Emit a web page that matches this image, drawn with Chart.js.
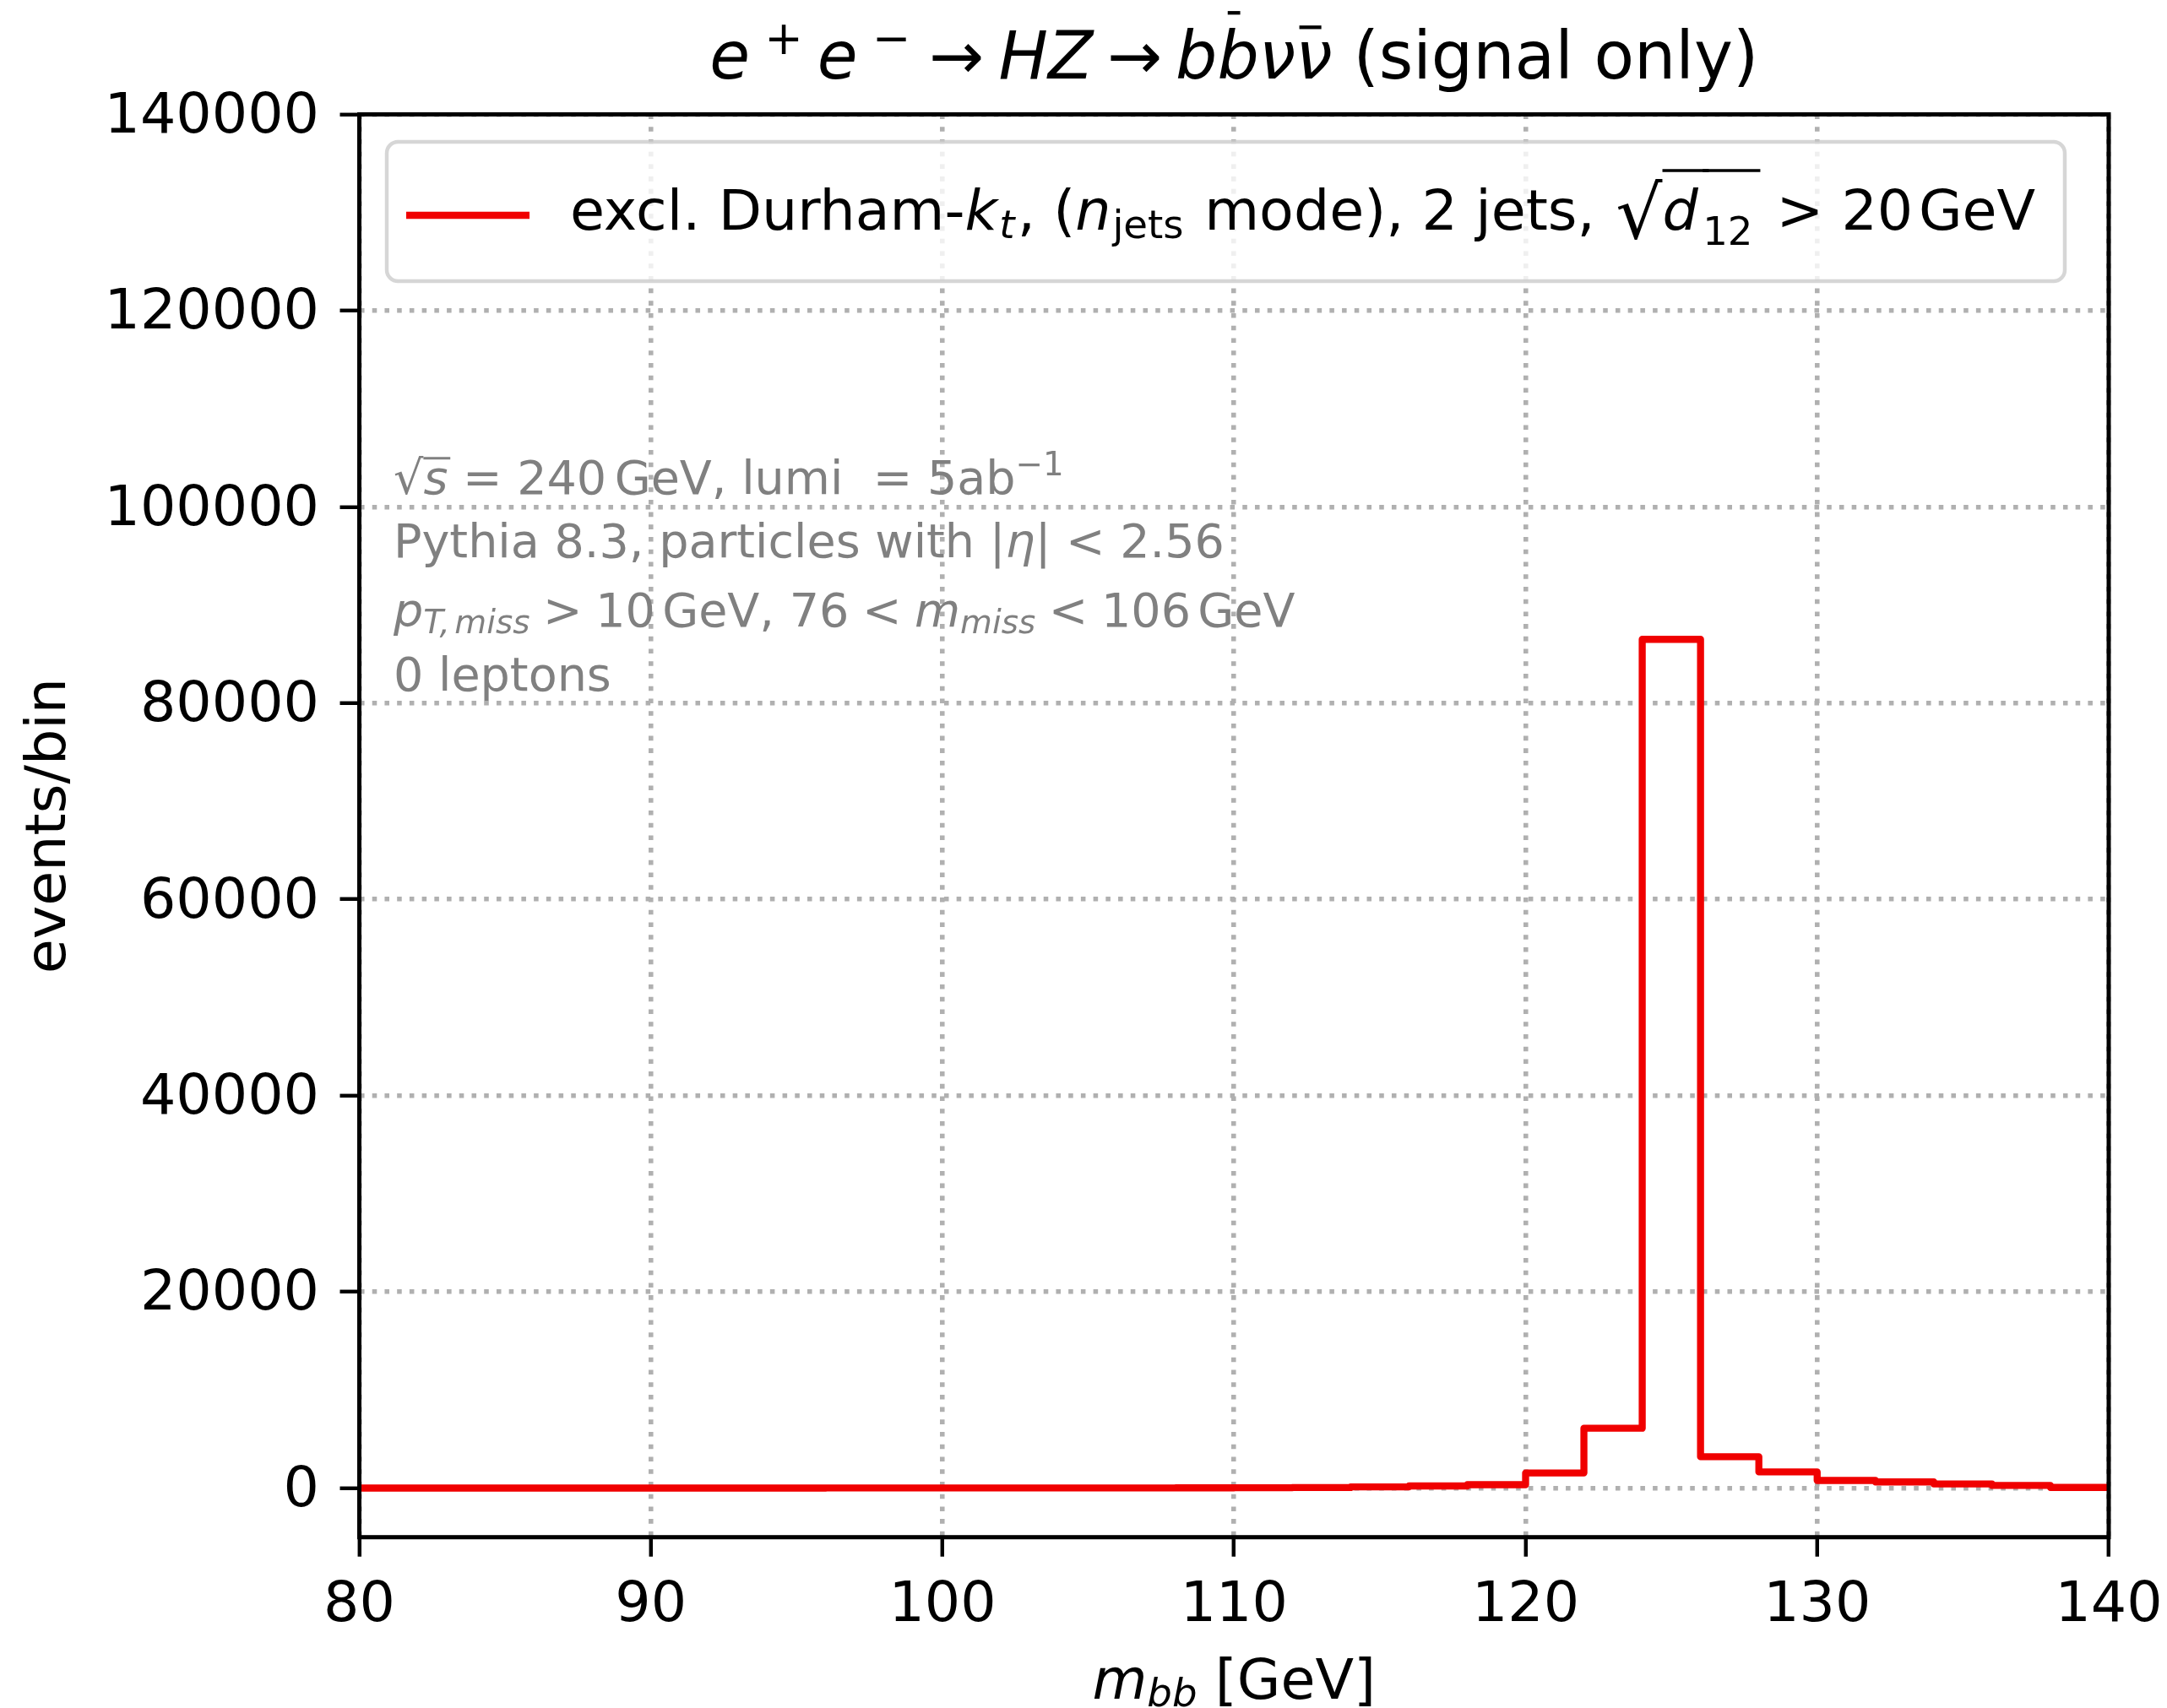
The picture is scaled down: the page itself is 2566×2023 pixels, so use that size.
<!DOCTYPE html>
<html>
<head>
<meta charset="utf-8">
<title>m_bb signal histogram</title>
<script src="https://cdn.jsdelivr.net/npm/chart.js@4.4.1/dist/chart.umd.min.js"></script>
<style>
  html, body { margin: 0; padding: 0; background: #fff; }
  canvas { display: block; }
</style>
</head>
<body>
<canvas id="mbb" width="2566" height="2023"></canvas>
<script>
// m_bb histogram, 2 GeV bins
const binEdges = [80, 82, 84, 86, 88, 90, 92, 94, 96, 98, 100, 102, 104, 106, 108, 110,
  112, 114, 116, 118, 120, 122, 124, 126, 128, 130, 132, 134, 136, 138, 140];
const eventsPerBin = [5, 5, 6, 7, 8, 9, 10, 11, 12, 14, 16, 18, 21, 25, 30, 38,
  55, 130, 220, 350, 1550, 6100, 86500, 3200, 1650, 780, 630, 430, 270, 70];
const xTicks = [80, 90, 100, 110, 120, 130, 140];
const yTicks = [0, 20000, 40000, 60000, 80000, 100000, 120000, 140000];

const FONT = '"DejaVu Sans"';
const PT = 400 / 72;          // sizes below are in points at 400 dpi
const RED = '#f00000';
const GREY = '#808080';

// outline of the step histogram: lower edge of each bin, then close at the last edge
const stepPoints = eventsPerBin.map((v, i) => ({ x: binEdges[i], y: v }));
stepPoints.push({ x: binEdges[binEdges.length - 1], y: eventsPerBin[eventsPerBin.length - 1] });
stepPoints.push({ x: binEdges[binEdges.length - 1], y: 0 });

// draw a row of text runs (italic, sub/superscripts, bars) the way mathtext lays them out
function drawRuns(ctx, runs, x, y, size, align, color) {
  const items = runs.map(r => {
    const s = size * (r.scale || 1);
    const font = (r.it ? 'italic ' : '') + s + 'px ' + FONT;
    ctx.font = font;
    return { r, font, w: ctx.measureText(r.t).width, gap: (r.gap || 0) * size };
  });
  const total = items.reduce((sum, it) => sum + it.gap + it.w, 0);
  let cx = align === 'center' ? x - total / 2 : x;
  ctx.save();
  ctx.fillStyle = color;
  ctx.strokeStyle = color;
  ctx.textAlign = 'left';
  ctx.textBaseline = 'alphabetic';
  items.forEach(it => {
    cx += it.gap;
    ctx.font = it.font;
    ctx.fillText(it.r.t, cx, y + (it.r.dy || 0) * size);
    if (it.r.bar) {
      const [a, b, h] = it.r.bar;
      ctx.lineWidth = size * 0.055;
      ctx.beginPath();
      ctx.moveTo(cx + a * it.w, y - h * size);
      ctx.lineTo(cx + b * it.w, y - h * size);
      ctx.stroke();
    }
    cx += it.w;
  });
  ctx.restore();
  return total;
}

const titleRuns = [
  { t: 'e', it: true },
  { t: '+', scale: 0.7, dy: -0.37, gap: 0.22 },
  { t: 'e', it: true, gap: 0.22 },
  { t: '\u2212', scale: 0.7, dy: -0.37, gap: 0.22 },
  { t: '\u2192', gap: 0.28 },
  { t: 'HZ', it: true, gap: 0.22 },
  { t: '\u2192', gap: 0.22 },
  { t: 'b', it: true, gap: 0.2 },
  { t: 'b', it: true, bar: [0.25, 0.55, 1.0] },
  { t: '\u03bd', it: true },
  { t: '\u03bd', it: true, bar: [0.1, 0.7, 0.78] },
  { t: ' (signal only)' }
];

const legendRuns = [
  { t: 'excl. Durham-' },
  { t: 'k', it: true },
  { t: 't', it: true, scale: 0.7, dy: 0.15, gap: 0.03 },
  { t: ', (', gap: 0.05 },
  { t: 'n', it: true },
  { t: 'jets', scale: 0.7, dy: 0.15, gap: 0.03 },
  { t: ' mode), 2 jets, ', gap: 0.05 },
  { t: '\u221a', scale: 1.3, dy: 0.15, gap: 0.05 },
  { t: 'd', it: true, bar: [0, 1.3, 1.05] },
  { t: '12', scale: 0.7, dy: 0.27, gap: 0.08, bar: [0, 1.15, 1.05] },
  { t: ' > 20', gap: 0.1 },
  { t: 'GeV', gap: 0.1 }
];

const infoLines = [
  [
    { t: '\u221a' },
    { t: 's', it: true, bar: [0, 1.1, 0.76] },
    { t: ' = 240' },
    { t: 'GeV, lumi  = 5ab', gap: 0.17 },
    { t: '\u22121', scale: 0.7, dy: -0.4 }
  ],
  [
    { t: 'Pythia 8.3, particles with |' },
    { t: '\u03b7', it: true },
    { t: '| < 2.56' }
  ],
  [
    { t: 'p', it: true },
    { t: 'T,', it: true, scale: 0.7, dy: 0.15 },
    { t: 'miss', it: true, scale: 0.7, dy: 0.15, gap: 0.1 },
    { t: '>', gap: 0.28 },
    { t: '10', gap: 0.28 },
    { t: 'GeV, 76', gap: 0.15 },
    { t: '<', gap: 0.28 },
    { t: 'm', it: true, gap: 0.28 },
    { t: 'miss', it: true, scale: 0.7, dy: 0.15 },
    { t: '<', gap: 0.28 },
    { t: '106', gap: 0.28 },
    { t: 'GeV', gap: 0.15 }
  ],
  [
    { t: '0 leptons' }
  ]
];
const infoBaselines = [585, 660, 742, 818];

const xTitleRuns = [
  { t: 'm', it: true },
  { t: 'bb', it: true, scale: 0.7, dy: 0.13 },
  { t: ' [GeV]' }
];

const decorations = {
  id: 'decorations',
  afterDraw(chart) {
    const ctx = chart.ctx;
    const a = chart.chartArea;

    // frame on all four sides
    ctx.save();
    ctx.strokeStyle = '#000';
    ctx.lineWidth = 0.9 * PT;
    ctx.strokeRect(a.left, a.top, a.right - a.left, a.bottom - a.top);
    ctx.restore();

    // run information
    infoLines.forEach((runs, i) => drawRuns(ctx, runs, 466, infoBaselines[i], 10 * PT, 'left', GREY));

    // legend
    const fs = 12 * PT;
    const box = { x: 458, y: 168, w: 1987, h: 165, r: 0.2 * fs };
    ctx.save();
    ctx.beginPath();
    ctx.roundRect(box.x, box.y, box.w, box.h, box.r);
    ctx.fillStyle = 'rgba(255,255,255,0.8)';
    ctx.fill();
    ctx.strokeStyle = 'rgba(204,204,204,0.8)';
    ctx.lineWidth = 0.8 * PT;
    ctx.stroke();
    ctx.strokeStyle = RED;
    ctx.lineWidth = 1.5 * PT;
    ctx.beginPath();
    ctx.moveTo(481, 255);
    ctx.lineTo(627, 255);
    ctx.stroke();
    ctx.restore();
    drawRuns(ctx, legendRuns, 675, 272, fs, 'left', '#000');

    // title and x axis label
    const mid = (a.left + a.right) / 2;
    drawRuns(ctx, titleRuns, mid, 93, 14 * PT, 'center', '#000');
    drawRuns(ctx, xTitleRuns, mid, 2012, 12 * PT, 'center', '#000');
  }
};

const tickFont = { family: FONT, size: 12 * PT };
const gridStyle = {
  color: '#b0b0b0',
  lineWidth: 1.0 * PT,
  tickColor: '#000',
  tickWidth: 0.8 * PT,
  tickLength: 23,
  tickBorderDash: []
};
// in Chart.js 4 the grid line dash lives under border
const dottedBorder = { display: false, dash: [1.0 * PT, 1.65 * PT] };

new Chart(document.getElementById('mbb'), {
  type: 'line',
  data: {
    datasets: [{
      data: stepPoints,
      borderColor: RED,
      borderWidth: 1.5 * PT,
      borderJoinStyle: 'round',
      stepped: 'before',
      pointRadius: 0,
      fill: false
    }]
  },
  options: {
    responsive: false,
    animation: false,
    devicePixelRatio: 1,
    layout: { padding: { top: 135.5, right: 69, left: 0, bottom: 0 } },
    plugins: {
      legend: { display: false },
      tooltip: { enabled: false }
    },
    scales: {
      x: {
        type: 'linear',
        min: 80,
        max: 140,
        afterBuildTicks: s => { s.ticks = xTicks.map(v => ({ value: v })); },
        afterFit: s => {
          s.height = 202.3;
          // edge labels may overhang; keep the plot area fixed
          s.paddingLeft = 0;
          s.paddingRight = 0;
        },
        ticks: { font: tickFont, color: '#000', padding: 19, maxRotation: 0 },
        grid: gridStyle,
        border: dottedBorder
      },
      y: {
        min: -5000,
        max: 140000,
        afterBuildTicks: s => { s.ticks = yTicks.map(v => ({ value: v })); },
        afterFit: s => {
          s.width = 425.5;
          s.paddingTop = 0;
          s.paddingBottom = 0;
        },
        ticks: { font: tickFont, color: '#000', padding: 24.5, labelOffset: 4, callback: v => String(v) },
        grid: gridStyle,
        border: dottedBorder,
        title: {
          display: true,
          text: 'events/bin',
          color: '#000',
          font: { family: FONT, size: 12 * PT },
          padding: { top: 20, bottom: 0 }
        }
      }
    }
  },
  plugins: [decorations]
});
</script>
</body>
</html>
